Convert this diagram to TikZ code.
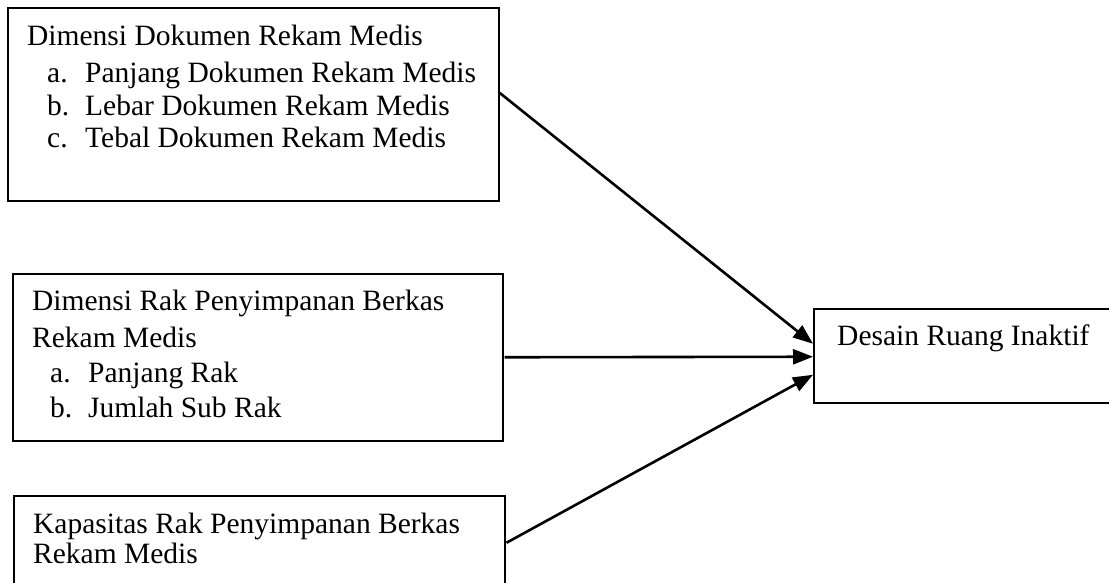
\documentclass[tikz,border=0pt]{standalone}
\usepackage{fontspec}
\setmainfont{Liberation Serif}
\usetikzlibrary{arrows.meta}
\begin{document}
\begin{tikzpicture}[x=1pt,y=-1pt,
  boxst/.style={draw,line width=1.5pt,rectangle,inner sep=0pt,anchor=north west},
  txt/.style={anchor=base west,inner sep=0pt,font=\fontsize{29.5}{33}\selectfont},
  arr/.style={line width=2.6pt,-{Triangle[length=20pt,width=15pt]}}]
\clip (0,0) rectangle (1109,582);
% boxes
\node[boxst,minimum width=491pt,minimum height=193pt] (box1) at (7,7) {};
\node[boxst,minimum width=490pt,minimum height=167pt] (box2) at (12,273) {};
\node[boxst,minimum width=491pt,minimum height=105pt] (box3) at (13,495) {};
\node[boxst,minimum width=296pt,minimum height=94pt] (box4) at (813,308) {};
% box 1 text
\node[txt] (t1) at (27,45) {Dimensi Dokumen Rekam Medis};
\node[txt] (t1a) at (47,82) {a.};
\node[txt] (t1at) at (85,82) {Panjang Dokumen Rekam Medis};
\node[txt] (t1b) at (47,115) {b.};
\node[txt] (t1bt) at (85,115) {Lebar Dokumen Rekam Medis};
\node[txt] (t1c) at (47,147) {c.};
\node[txt] (t1ct) at (85,147) {Tebal Dokumen Rekam Medis};
% box 2 text
\node[txt] (t2) at (32,310) {Dimensi Rak Penyimpanan Berkas};
\node[txt] (t2r) at (32,347) {Rekam Medis};
\node[txt] (t2a) at (50,382) {a.};
\node[txt] (t2at) at (88,382) {Panjang Rak};
\node[txt] (t2b) at (50,417) {b.};
\node[txt] (t2bt) at (88,417) {Jumlah Sub Rak};
% box 3 text
\node[txt] (t3) at (33,533) {Kapasitas Rak Penyimpanan Berkas};
\node[txt] (t3r) at (33,563) {Rekam Medis};
% box 4 text
\node[txt] (t4) at (837,345) {Desain Ruang Inaktif};
% arrows
\draw[arr] ([yshift=11.5pt]box1.east) -- ([yshift=12pt]box4.west);
\draw[arr] ([xshift=1pt]box2.east) -- ([yshift=-1pt]box4.west);
\draw[arr] ([xshift=1pt,yshift=5.5pt]box3.east) -- ([yshift=-19pt]box4.west);
\end{tikzpicture}
\end{document}
